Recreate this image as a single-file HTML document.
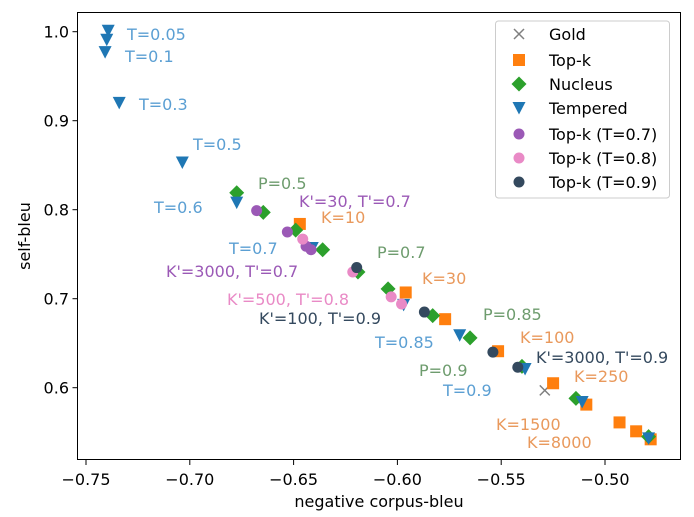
<!DOCTYPE html>
<html><head><meta charset="utf-8"><style>
html,body{margin:0;padding:0;background:#fff;}
svg{display:block;font-family:"DejaVu Sans","Liberation Sans",sans-serif;}
</style></head><body>
<svg id="chart" width="694" height="517" viewBox="0 0 694 517" xmlns="http://www.w3.org/2000/svg">
<g id="marks"></g>
<g id="axes"></g>
</svg>
<script>
const xTicks = [-0.75, -0.70, -0.65, -0.60, -0.55, -0.50];
const xTickLabels = ["\u22120.75","\u22120.70","\u22120.65","\u22120.60","\u22120.55","\u22120.50"];
const yTicks = [0.6, 0.7, 0.8, 0.9, 1.0];
const yTickLabels = ["0.6","0.7","0.8","0.9","1.0"];

const goldX = [-0.529];
const goldY = [0.597];
const topkX = [-0.647,-0.596,-0.577,-0.5515,-0.525,-0.509,-0.493,-0.485,-0.478];
const topkY = [0.784,0.707,0.677,0.641,0.605,0.581,0.561,0.551,0.542];
const nucleusX = [-0.6774,-0.6646,-0.649,-0.636,-0.619,-0.6045,-0.583,-0.565,-0.540,-0.514,-0.479];
const nucleusY = [0.819,0.797,0.777,0.755,0.730,0.711,0.681,0.656,0.624,0.588,0.545];
const temperedX = [-0.7393,-0.740,-0.7408,-0.734,-0.7036,-0.6774,-0.641,-0.597,-0.570,-0.5385,-0.511,-0.479];
const temperedY = [1.001,0.991,0.977,0.920,0.853,0.808,0.757,0.693,0.659,0.621,0.584,0.543];
const tk07X = [-0.6678,-0.653,-0.644,-0.6416];
const tk07Y = [0.799,0.775,0.759,0.755];
const tk08X = [-0.6456,-0.6215,-0.603,-0.598];
const tk08Y = [0.767,0.730,0.702,0.694];
const tk09X = [-0.6196,-0.587,-0.554,-0.542];
const tk09Y = [0.735,0.685,0.640,0.623];

const NS = "http://www.w3.org/2000/svg";
const X0 = 86, XS = 2076, Y0 = 31.7, YS = 890;
const FS = 16;
function sx(v){ return X0 + (v + 0.75) * XS; }
function sy(v){ return Y0 + (1.0 - v) * YS; }
const marks = document.getElementById('marks');
const axes = document.getElementById('axes');
function mk(tag, attrs, parent){
  const e = document.createElementNS(NS, tag);
  for (const k in attrs) e.setAttribute(k, attrs[k]);
  parent.appendChild(e); return e;
}
function marker(type, x, y, color, parent){
  let e;
  if (type === 'square') e = mk('rect', {x:x-6, y:y-6, width:12, height:12, fill:color}, parent);
  else if (type === 'diamond') e = mk('polygon', {points:`${x},${y-7.5} ${x+7.5},${y} ${x},${y+7.5} ${x-7.5},${y}`, fill:color}, parent);
  else if (type === 'tri') e = mk('polygon', {points:`${x-6.5},${y-6} ${x+6.5},${y-6} ${x},${y+6.5}`, fill:color}, parent);
  else if (type === 'circle') e = mk('circle', {cx:x, cy:y, r:5.5, fill:color}, parent);
  else { e = mk('path', {d:`M${x-5},${y-5}L${x+5},${y+5}M${x+5},${y-5}L${x-5},${y+5}`, stroke:color, 'stroke-width':1.5, fill:'none'}, parent); }
  return e;
}
const series = [
  {name:'gold', xs:goldX, ys:goldY, type:'x', color:'#7f7f7f'},
  {name:'topk', xs:topkX, ys:topkY, type:'square', color:'#ff7f0e'},
  {name:'nucleus', xs:nucleusX, ys:nucleusY, type:'diamond', color:'#2ca02c'},
  {name:'tempered', xs:temperedX, ys:temperedY, type:'tri', color:'#1f77b4'},
  {name:'topk-t07', xs:tk07X, ys:tk07Y, type:'circle', color:'#9b59b6'},
  {name:'topk-t08', xs:tk08X, ys:tk08Y, type:'circle', color:'#e98ac6'},
  {name:'topk-t09', xs:tk09X, ys:tk09Y, type:'circle', color:'#34495e'}
];
series.forEach(s => {
  s.xs.forEach((v, i) => {
    const e = marker(s.type, sx(v), sy(s.ys[i]), s.color, marks);
    
    
  });
});
const annots = [
 ["T=0.05",127,34,"#5b9fd3"],["T=0.1",125,56,"#5b9fd3"],["T=0.3",139,104,"#5b9fd3"],["T=0.5",193,144,"#5b9fd3"],
 ["T=0.6",154,207,"#5b9fd3"],["T=0.7",229,248,"#5b9fd3"],["T=0.85",375,342,"#5b9fd3"],["T=0.9",443,390,"#5b9fd3"],
 ["P=0.5",258,183,"#6e9c6e"],["P=0.7",377,252,"#6e9c6e"],["P=0.85",483,314,"#6e9c6e"],["P=0.9",419,370,"#6e9c6e"],
 ["K=10",321,217,"#e9995c"],["K=30",422,278,"#e9995c"],["K=100",520,337,"#e9995c"],["K=250",574,376,"#e9995c"],
 ["K=1500",496,424,"#e9995c"],["K=8000",527,442,"#e9995c"],
 ["K'=30, T'=0.7",299,201,"#9b59b6"],["K'=3000, T'=0.7",166,271,"#9b59b6"],
 ["K'=500, T'=0.8",227,299,"#e98ac6"],["K'=100, T'=0.9",259,318,"#34495e"],["K'=3000, T'=0.9",536,357,"#34495e"]
];
annots.forEach(a => {
  const t = mk('text', {x:a[1], y:a[2]+6, fill:a[3], 'font-size':FS}, marks);
  t.textContent = a[0];
  
  
});
const fr = mk('rect', {x:77.5, y:12.5, width:603, height:447, fill:'none', stroke:'#000', 'stroke-width':1}, axes);


xTicks.forEach((v, i) => {
  const x = sx(v);
  const l = mk('line', {x1:x, x2:x, y1:460, y2:465, stroke:'#000'}, axes);
  
  
  const t = mk('text', {x:x, y:485, 'text-anchor':'middle', 'font-size':FS}, axes);
  t.textContent = xTickLabels[i];
  
  
});
yTicks.forEach((v, i) => {
  const y = sy(v);
  const l = mk('line', {x1:72.5, x2:77.5, y1:y, y2:y, stroke:'#000'}, axes);
  
  
  const t = mk('text', {x:69, y:y+6, 'text-anchor':'end', 'font-size':FS}, axes);
  t.textContent = yTickLabels[i];
  
  
});
const xl = mk('text', {x:379, y:507, 'text-anchor':'middle', 'font-size':FS}, axes);
xl.textContent = 'negative corpus-bleu';


const yl = mk('text', {x:0, y:0, 'text-anchor':'middle', 'font-size':FS, transform:'translate(30,236) rotate(-90)'}, axes);
yl.textContent = 'self-bleu';


const lg = mk('g', {}, axes);


mk('rect', {x:495.5, y:21, width:174, height:177, rx:3, fill:'#fff', 'fill-opacity':0.8, stroke:'#ccc'}, lg);
const legNames = ["Gold","Top-k","Nucleus","Tempered","Top-k (T=0.7)","Top-k (T=0.8)","Top-k (T=0.9)"];
const legRows = [34,60,84,108,134,158,182];
series.forEach((s, i) => {
  const m = marker(s.type, 519, legRows[i], s.color, lg);
  
  
  const t = mk('text', {x:549, y:legRows[i]+6, 'font-size':FS}, lg);
  t.textContent = legNames[i];
  
  
});
</script>
</body></html>
